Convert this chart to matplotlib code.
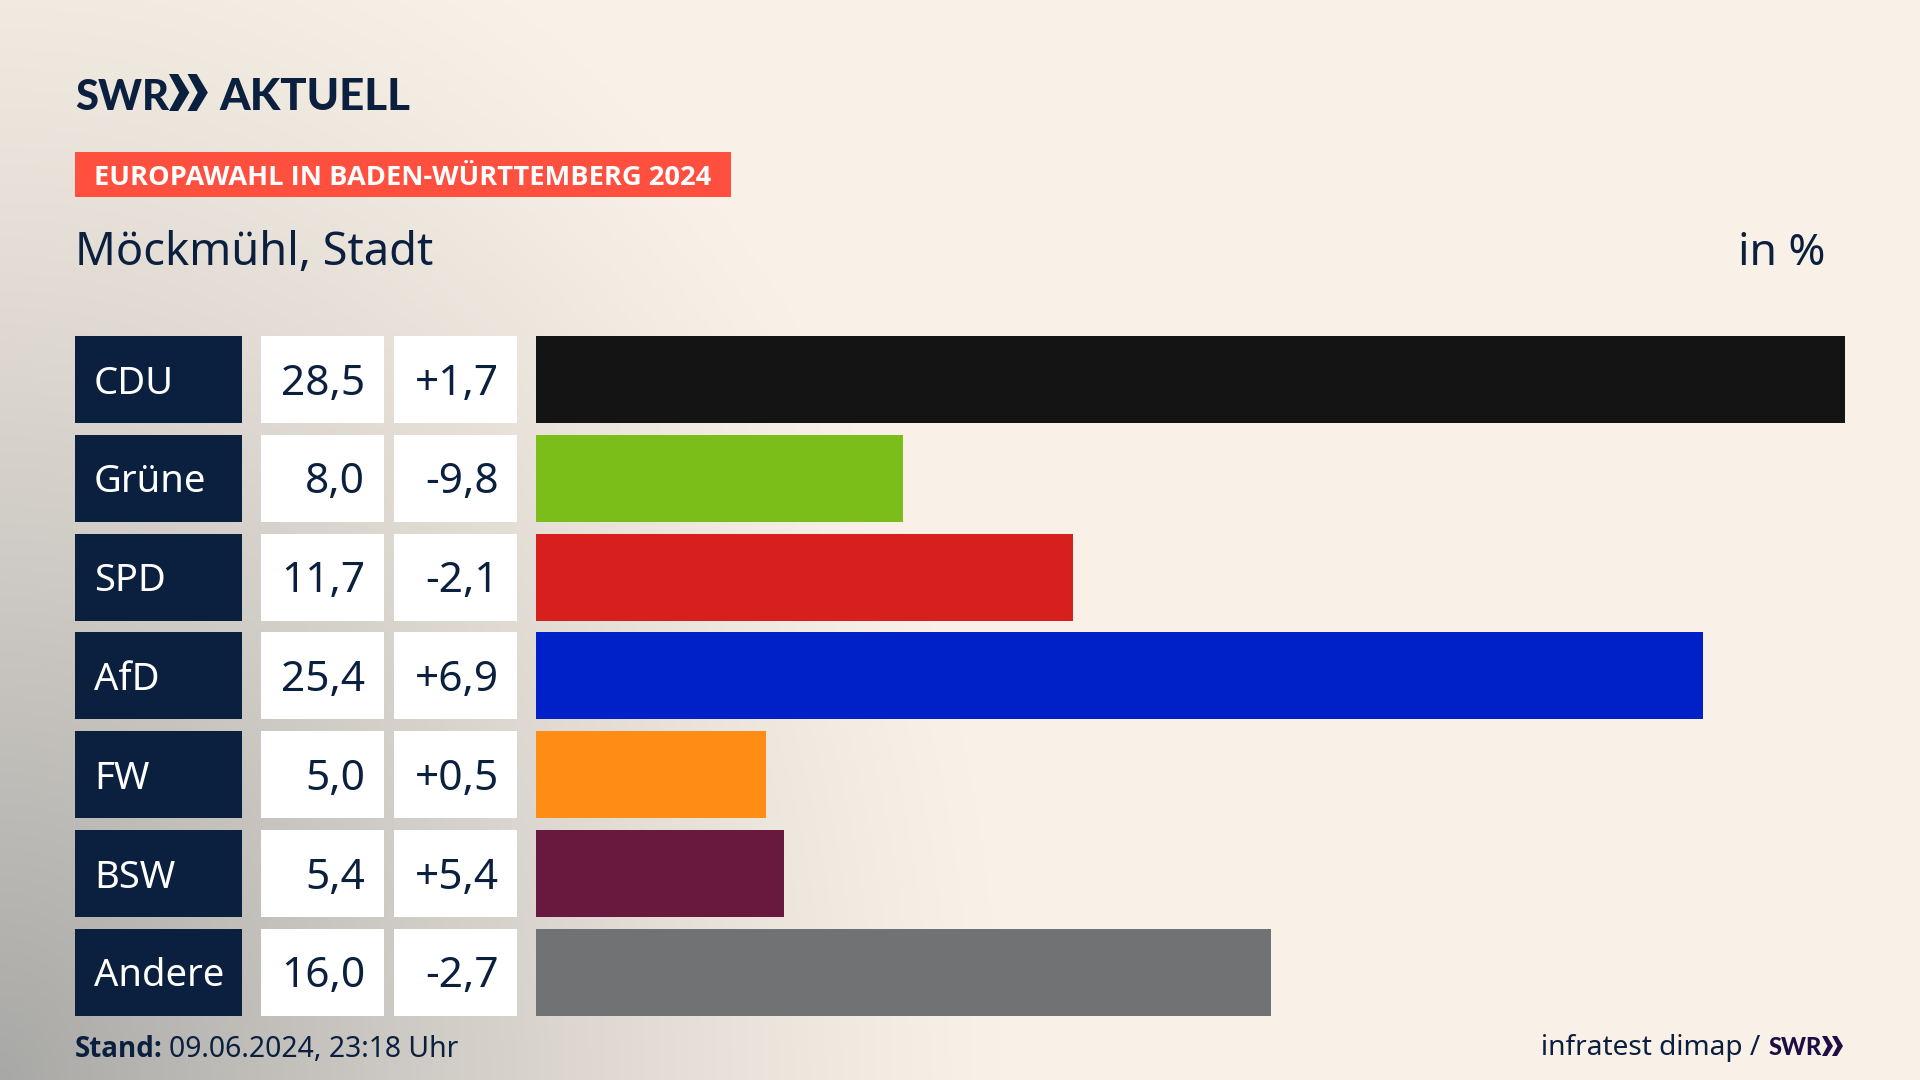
import matplotlib
matplotlib.use('Agg')
import matplotlib.pyplot as plt
from matplotlib.patches import Rectangle, Polygon
import numpy as np

# Data setup
parties = ['CDU', 'Grüne', 'SPD', 'AfD', 'FW', 'BSW', 'Andere']
shares = [28.5, 8.0, 11.7, 25.4, 5.0, 5.4, 16.0]
changes = ['+1,7', '-9,8', '-2,1', '+6,9', '+0,5', '+5,4', '-2,7']
colors = ['#141414', '#7BBE1A', '#D7201E', '#0021C8', '#FF8C14', '#6A193E', '#717274']

navy = '#0B1F3F'
W, H = 1920, 1080
ROW_TOP, ROW_H, ROW_STEP = 336, 87, 98.83

plt.rcParams['font.family'] = ['Noto Sans', 'DejaVu Sans']
BOLD = ['Open Sans', 'DejaVu Sans']
LOGO = ['Lato', 'DejaVu Sans']

fig = plt.figure(figsize=(19.2, 10.8), dpi=100)

# Background: cream with a grey glow from the lower left corner
bg = fig.add_axes([0, 0, 1, 1], zorder=0)
yy, xx = np.mgrid[0:H, 0:W]
d = np.sqrt((xx / 1000.0) ** 2 + ((H - yy) / 1250.0) ** 2)
t = np.clip(1 - d, 0, 1) ** 1.2
cream = np.array([249, 241, 231]) / 255
grey = np.array([168, 168, 166]) / 255
img = cream[None, None, :] * (1 - t[..., None]) + grey[None, None, :] * t[..., None]
bg.imshow(img, extent=(0, W, H, 0), aspect='auto', interpolation='bilinear')
bg.set_xlim(0, W)
bg.set_ylim(H, 0)
bg.axis('off')

# Header
bg.text(75, 110, 'SWR', family=LOGO, weight=900, fontsize=30, color=navy, ha='left', va='baseline')
bg.text(219, 110, 'AKTUELL', family=LOGO, weight=900, fontsize=31.5, color=navy, ha='left', va='baseline')


def chevrons(x, y, h, color):
    w = h * 0.55
    for off in (0, h * 0.5):
        bg.add_patch(Polygon([(x + off, y), (x + off + w * 0.45, y), (x + off + w, y + h / 2),
                              (x + off + w * 0.45, y + h), (x + off, y + h), (x + off + w * 0.5, y + h / 2)],
                             closed=True, color=color, lw=0))


chevrons(169, 74, 37, navy)

bg.add_patch(Rectangle((75, 152), 656, 45, color='#FF4F3F', lw=0))
bg.text(94, 185, 'EUROPAWAHL IN BADEN-WÜRTTEMBERG 2024', family=BOLD, weight='bold', fontsize=19.65,
        color='white', ha='left', va='baseline')
bg.text(75, 265, 'Möckmühl, Stadt', fontsize=32.5, color=navy, ha='left', va='baseline')
bg.text(1825, 265, 'in %', fontsize=32, color=navy, ha='right', va='baseline')

# Table columns
for i, (party, share, change) in enumerate(zip(parties, shares, changes)):
    top = ROW_TOP + i * ROW_STEP
    base = top + ROW_H / 2 + 15
    bg.add_patch(Rectangle((75, top), 167, ROW_H, color=navy, lw=0))
    bg.add_patch(Rectangle((261, top), 123, ROW_H, color='white', lw=0))
    bg.add_patch(Rectangle((394, top), 123, ROW_H, color='white', lw=0))
    bg.text(94, base - 1, party, fontsize=27.5, color='white', ha='left', va='baseline')
    bg.text(365, base, f'{share:.1f}'.replace('.', ','), fontsize=30.5, color=navy, ha='right', va='baseline')
    bg.text(499, base, change, fontsize=30.5, color=navy, ha='right', va='baseline')

# Bars
ax = fig.add_axes([536 / W, 1 - (ROW_TOP + 6 * ROW_STEP + ROW_H) / H, (1845 - 536) / W,
                   (6 * ROW_STEP + ROW_H) / H], zorder=1)
ax.patch.set_alpha(0)
y = np.arange(len(parties))
ax.barh(y, shares, height=ROW_H / ROW_STEP, color=colors)
ax.set_xlim(0, max(shares))
ax.set_ylim(6 + ROW_H / ROW_STEP / 2, -ROW_H / ROW_STEP / 2)
ax.axis('off')

# Footer
bg.text(75, 1057, 'Stand:', family=BOLD, weight='bold', fontsize=20, color=navy, ha='left', va='baseline')
bg.text(169, 1057, '09.06.2024, 23:18 Uhr', fontsize=20.4, color=navy, ha='left', va='baseline')
bg.text(1760, 1055, 'infratest dimap /', fontsize=20.2, color=navy, ha='right', va='baseline')
bg.text(1769, 1055, 'SWR', family=LOGO, weight=900, fontsize=17, color='#1D0F45', ha='left', va='baseline')
chevrons(1822, 1036, 20, '#1D0F45')

plt.savefig('out.png', dpi=100)
plt.close()
